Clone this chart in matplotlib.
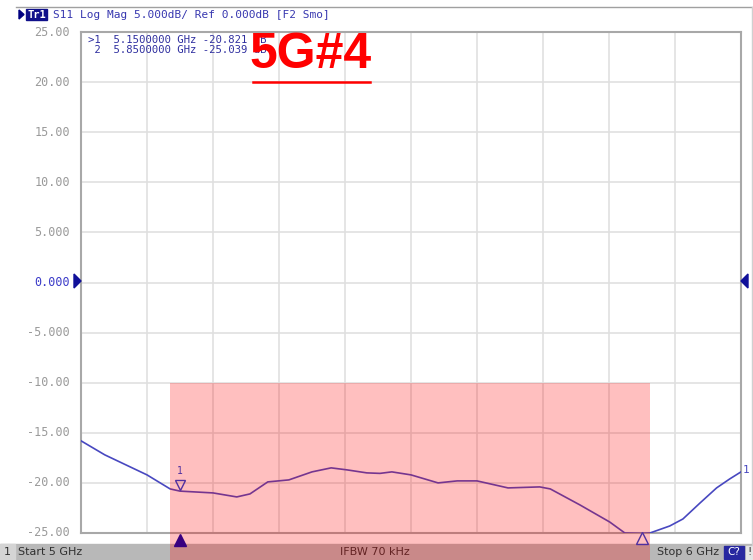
import numpy as np
import matplotlib
matplotlib.use("Agg")
import matplotlib.pyplot as plt
from matplotlib.patches import Rectangle, Polygon

# ===================== DATA =====================
freq_ghz = [5.000, 5.036, 5.100, 5.135, 5.150, 5.200, 5.236, 5.256, 5.283, 5.315,
            5.350, 5.379, 5.403, 5.433, 5.453, 5.471, 5.500, 5.541, 5.570, 5.600,
            5.647, 5.695, 5.711, 5.756, 5.801, 5.824, 5.850, 5.862, 5.892, 5.912,
            5.938, 5.963, 5.983, 6.000]
s11_db = [-15.8, -17.2, -19.2, -20.6, -20.82, -21.0, -21.4, -21.1, -19.9, -19.7,
          -18.9, -18.5, -18.7, -19.0, -19.05, -18.9, -19.2, -20.0, -19.8, -19.8,
          -20.5, -20.4, -20.6, -22.2, -23.9, -25.0, -25.04, -25.0, -24.3, -23.6,
          -22.0, -20.5, -19.6, -18.9]

y_ticks = [25, 20, 15, 10, 5, 0, -5, -10, -15, -20, -25]
y_labels = ["25.00", "20.00", "15.00", "10.00", "5.000", "0.000",
            "-5.000", "-10.00", "-15.00", "-20.00", "-25.00"]
x_ticks = [5.0 + 0.1 * i for i in range(11)]

band = (5.135, 5.862)      # highlighted band (GHz)
band_top = -10
marker_freq = [5.15, 5.85]
marker_val = [-20.821, -25.039]

W, H = 753, 560
TRACE = "#4848c0"
MONO = "DejaVu Sans Mono"


def fx(x):
    return x / W


def fy(y):
    return 1 - y / H


fig = plt.figure(figsize=(W / 100, H / 100), dpi=100)
ax = fig.add_axes([fx(81), fy(533), (741 - 81) / W, (533 - 32) / H])

ax.set_xlim(5.0, 6.0)
ax.set_ylim(-25, 25)
ax.set_xticks(x_ticks)
ax.set_yticks(y_ticks)
ax.set_xticklabels([])
ax.set_yticklabels([])
ax.tick_params(length=0)
ax.grid(color="#e0e0e0", lw=1.2)
for s in ax.spines.values():
    s.set_color("#a8a8a8")
    s.set_linewidth(1.5)

# y tick labels
dpy = 50 / 501
for v, lab in zip(y_ticks, y_labels):
    col = "#3a3ac8" if v == 0 else "#9a9a9a"
    fig.text(fx(70), fy(32 + (25 - v) / dpy), lab, ha="right", va="center",
             family=MONO, fontsize=8.5, color=col)

# trace
ax.plot(freq_ghz, s11_db, color=TRACE, lw=1.2, zorder=3)

# band highlight overlay (extends into status bar)
y_bottom = -25 - (H - 533) * dpy
ax.add_patch(Rectangle((band[0], band_top), band[1] - band[0], y_bottom - band_top,
                       facecolor="red", alpha=0.25, edgecolor="none",
                       clip_on=False, zorder=4))

# markers
ax.plot([marker_freq[0]], [-25 - 7 * dpy], marker="^", ms=9, color="#380080",
        clip_on=False, zorder=5)
ax.plot([marker_freq[0]], [marker_val[0] + 0.6], marker="v", ms=7, mfc="none",
        mec="#5030a0", mew=1, clip_on=False, zorder=5)
ax.text(marker_freq[0], marker_val[0] + 1.5, "1", ha="center", va="bottom",
        family=MONO, fontsize=7, color="#5030a0", zorder=5)
ax.plot([marker_freq[1]], [-25 - 5 * dpy], marker="^", ms=9, mfc="none",
        mec="#5030a0", mew=1, clip_on=False, zorder=5)
ax.text(6.002, s11_db[-1] + 0.2, "1", ha="left", va="center", family=MONO,
        fontsize=8, color=TRACE, clip_on=False)

# reference level arrows
fig.patches.append(Polygon([[fx(74), fy(274)], [fx(74), fy(288)], [fx(81), fy(281)]],
                           closed=True, transform=fig.transFigure, color="#10109a"))
fig.patches.append(Polygon([[fx(748), fy(274)], [fx(748), fy(288)], [fx(741), fy(281)]],
                           closed=True, transform=fig.transFigure, color="#10109a"))

# marker readout
fig.text(fx(88), fy(40), ">1  5.1500000 GHz -20.821 dB", family=MONO, fontsize=7.7,
         color="#3030a0", va="center")
fig.text(fx(88), fy(50), " 2  5.8500000 GHz -25.039 dB", family=MONO, fontsize=7.7,
         color="#3030a0", va="center")

# big red label
fig.text(fx(311), fy(55), "5G#4", family="Liberation Sans", weight="bold",
         fontsize=36, color="#ff0000", ha="center", va="center", zorder=6)
fig.lines.append(plt.Line2D([fx(253), fx(370)], [fy(82), fy(82)],
                            transform=fig.transFigure, color="#ff0000", lw=1.8))

# header
fig.lines.append(plt.Line2D([fx(16), fx(753)], [fy(7), fy(7)],
                            transform=fig.transFigure, color="#a0a0a0", lw=1))
fig.lines.append(plt.Line2D([fx(752), fx(752)], [fy(7), fy(545)],
                            transform=fig.transFigure, color="#d0d0d0", lw=1))
fig.patches.append(Polygon([[fx(19), fy(10)], [fx(19), fy(19)], [fx(24), fy(14.5)]],
                           closed=True, transform=fig.transFigure, color="#000080"))
fig.patches.append(Rectangle((fx(26), fy(20)), (47 - 26) / W, 11 / H,
                             transform=fig.transFigure, color="#10108a"))
fig.text(fx(36.5), fy(14.5), "Tr1", family=MONO, fontsize=7.5, weight="bold",
         color="white", ha="center", va="center")
fig.text(fx(53), fy(14.5), "S11 Log Mag 5.000dB/ Ref 0.000dB [F2 Smo]",
         family=MONO, fontsize=8, color="#3838b0", va="center")

# status bar
fig.patches.append(Rectangle((0, 0), 1, 16 / H, transform=fig.transFigure,
                             color="#b8b8b8", zorder=-2))
fig.patches.append(Rectangle((0, 0), 15 / W, 16 / H, transform=fig.transFigure,
                             color="#d4d4d4", zorder=-2))
fig.patches.append(Rectangle((fx(724), 1 / H), 20 / W, 13 / H,
                             transform=fig.transFigure, color="#2828a0", zorder=-1.5))
fig.patches.append(Rectangle((fx(746), 1 / H), 7 / W, 13 / H,
                             transform=fig.transFigure, color="#e4e4e4", zorder=-1.5))
sb_y = fy(552)
fig.text(fx(4), sb_y, "1", family="DejaVu Sans", fontsize=8, color="#303030",
         va="center", zorder=-1)
fig.text(fx(18), sb_y, "Start 5 GHz", family="DejaVu Sans", fontsize=8,
         color="#303030", va="center", zorder=-1)
fig.text(fx(375), sb_y, "IFBW 70 kHz", family="DejaVu Sans", fontsize=8,
         color="#303030", va="center", ha="center", zorder=-1)
fig.text(fx(719), sb_y, "Stop 6 GHz", family="DejaVu Sans", fontsize=8,
         color="#303030", va="center", ha="right", zorder=-1)
fig.text(fx(734), sb_y, "C?", family="DejaVu Sans", fontsize=7.5,
         color="white", va="center", ha="center", zorder=-1)
fig.text(fx(749.5), sb_y, "!", family="DejaVu Sans", fontsize=7.5,
         color="#303030", va="center", ha="center", zorder=-1)

fig.savefig("out.png", dpi=100)
